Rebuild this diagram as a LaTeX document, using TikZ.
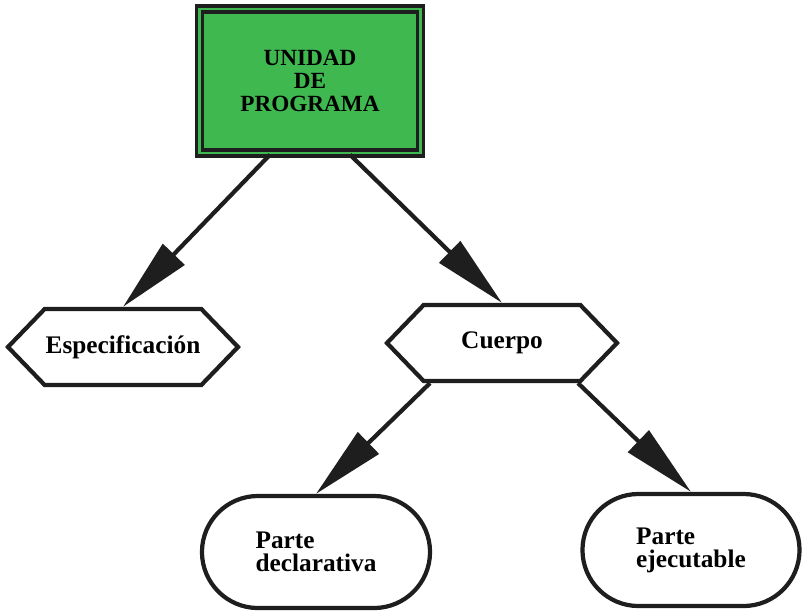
\documentclass[tikz,border=0pt]{standalone}
\usepackage{fontspec}
\setmainfont{Liberation Serif}
\usetikzlibrary{shapes.symbols,arrows.meta}
\definecolor{verde}{RGB}{64,184,80}
\definecolor{tinta}{RGB}{30,30,30}

\begin{document}
\begin{tikzpicture}[x=0.025cm,y=-0.025cm,
  caja/.style={draw=tinta,line width=2.4pt,double=verde,double distance=1.8pt,
    fill=verde,minimum width=5.525cm,minimum height=3.6cm,align=center,
    font=\bfseries\fontsize{16.5}{16.5}\selectfont},
  hexa/.style={draw=tinta,line width=3pt,shape=signal,signal to=west and east,
    signal pointer angle=92,minimum width=5.75cm,minimum height=1.9cm,
    inner xsep=0pt,font=\bfseries\fontsize{18}{18}\selectfont},
  ovalo/.style={draw=tinta,line width=3pt,rounded corners=1.4cm,
    minimum height=2.8cm,align=left,font=\bfseries\fontsize{18}{16.5}\selectfont},
  flecha/.style={draw=tinta,line width=3pt,-{Triangle[length=52pt,width=21pt]}}]
  \useasboundingbox (0,0) rectangle (802,614);
  % Top box
  \node[caja] (prog) at (310,81) {UNIDAD\\DE\\PROGRAMA};
  % Second level
  \node[hexa] (espec) at (123,347) {Especificación};
  \node[hexa] (cuerpo) at (502,343) {Cuerpo};
  % Parts of the body
  \node[ovalo,minimum width=5.7cm] (decl) at (316,552) {Parte\\declarativa};
  \node[ovalo,minimum width=5.425cm] (ejec) at (691,550) {Parte\\ejecutable};
  % Arrows
  \draw[flecha] ([xshift=-1cm]prog.south) -- (espec.north);
  \draw[flecha] ([xshift=1cm]prog.south) -- (cuerpo.north);
  \draw[flecha] ([xshift=-1.8cm]cuerpo.south) -- (decl.north);
  \draw[flecha] ([xshift=1.9cm]cuerpo.south) -- (ejec.north);
\end{tikzpicture}
\end{document}
